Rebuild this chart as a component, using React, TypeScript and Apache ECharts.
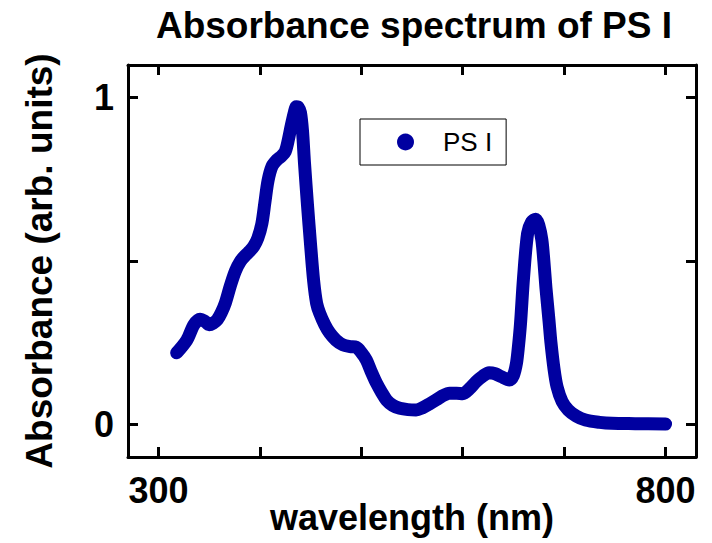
import React, { useEffect, useRef } from "react";
import * as echarts from "echarts";

const wavelengths = [318,328,335,341,346,350,354,358,362,366,371,376,381,386,390,394,398,402,405,408,412,417,421,425,428,431,434,436,438,440,442,444,447,450,453,456,459,464,469,475,482,489,495,500,505,510,515,520,525,531,538,546,554,560,567,574,580,587,594,600,607,613,620,626,632,638,646,650,653,655,657,660,664,668,672,675,678,680,682,685,687,690,693,698,704,712,721,735,747,770,800];
const absorbance = [0.219,0.258,0.305,0.322,0.315,0.305,0.31,0.32,0.342,0.372,0.425,0.47,0.5,0.518,0.53,0.545,0.57,0.615,0.68,0.745,0.79,0.81,0.82,0.835,0.87,0.915,0.955,0.972,0.97,0.955,0.9,0.8,0.67,0.55,0.44,0.37,0.34,0.305,0.279,0.258,0.243,0.238,0.236,0.22,0.197,0.16,0.126,0.098,0.074,0.058,0.049,0.045,0.044,0.05,0.062,0.075,0.087,0.095,0.095,0.094,0.11,0.13,0.148,0.158,0.155,0.146,0.136,0.15,0.187,0.24,0.309,0.45,0.585,0.62,0.628,0.61,0.565,0.5,0.42,0.32,0.25,0.17,0.115,0.07,0.044,0.025,0.013,0.006,0.003,0.002,0.001];

const xTicks = [300, 400, 500, 600, 700, 800];
const xLabels = [300, 800];
const yTicks = [0, 0.5, 1];
const yLabels = [0, 1];

const seriesName = "PS I";
const titleText = "Absorbance spectrum of PS I";
const xName = "wavelength (nm)";
const yName = "Absorbance (arb. units)";

const FONT = "Liberation Sans, Arial, Helvetica, sans-serif";
const LINE_COLOR = "#0000A0";

export default function App() {
  const ref = useRef<HTMLDivElement>(null);
  useEffect(() => {
    if (!ref.current) return;
    const chart = echarts.init(ref.current, null, { renderer: "svg" });
    const axisLine = { show: true, onZero: false, lineStyle: { color: "#000", width: 3 } };
    const tick = (vals: number[]) => ({
      show: true,
      inside: true,
      length: 10,
      lineStyle: { color: "#000", width: 3 },
      customValues: vals,
    });
    const lbl = (vals: number[], margin: number) => ({
      show: true,
      customValues: vals,
      color: "#000",
      fontFamily: FONT,
      fontWeight: "bold",
      fontSize: 36,
      margin,
    });
    chart.setOption({
      animation: false,
      backgroundColor: "#fff",
      title: {
        text: titleText,
        left: 409,
        top: 2,
        textAlign: "center",
        textStyle: { fontFamily: FONT, fontWeight: "bold", fontSize: 37, color: "#000" },
      },
      legend: {
        data: [{ name: seriesName, icon: "circle" }],
        left: 360,
        top: 119,
        orient: "horizontal",
        itemWidth: 17,
        itemHeight: 17,
        padding: [10, 14, 10, 37],
        borderColor: "#000",
        borderWidth: 1,
        borderRadius: 0,
        backgroundColor: "#fff",
        textStyle: {
          fontFamily: FONT,
          fontSize: 26,
          color: "#000",
          padding: [0, 0, 0, 24],
        },
      },
      grid: {
        left: 128,
        right: 16,
        top: 65,
        bottom: 86,
        containLabel: false,
        outerBoundsMode: "none",
      },
      xAxis: [
        {
          type: "value",
          min: 270,
          max: 830,
          position: "bottom",
          axisLine,
          axisTick: tick(xTicks),
          axisLabel: lbl(xLabels, 15),
          splitLine: { show: false },
          name: xName,
          nameLocation: "middle",
          nameGap: 42,
          nameMoveOverlap: false,
          nameTextStyle: { fontFamily: FONT, fontWeight: "bold", fontSize: 36, color: "#000" },
        },
        {
          type: "value",
          min: 270,
          max: 830,
          position: "top",
          axisLine,
          axisTick: tick(xTicks),
          axisLabel: { show: false },
          splitLine: { show: false },
        },
      ],
      yAxis: [
        {
          type: "value",
          min: -0.1,
          max: 1.1,
          position: "left",
          axisLine,
          axisTick: tick(yTicks),
          axisLabel: lbl(yLabels, 14),
          splitLine: { show: false },
          name: yName,
          nameLocation: "middle",
          nameGap: 70,
          nameMoveOverlap: false,
          nameTextStyle: { fontFamily: FONT, fontWeight: "bold", fontSize: 37, color: "#000" },
        },
        {
          type: "value",
          min: -0.1,
          max: 1.1,
          position: "right",
          axisLine,
          axisTick: tick(yTicks),
          axisLabel: { show: false },
          splitLine: { show: false },
        },
      ],
      series: [
        {
          name: seriesName,
          type: "line",
          xAxisIndex: 0,
          yAxisIndex: 0,
          data: wavelengths.map((w, i) => [w, absorbance[i]]),
          smooth: 0.3,
          showSymbol: false,
          symbol: "circle",
          itemStyle: { color: LINE_COLOR },
          lineStyle: { color: LINE_COLOR, width: 13, cap: "round", join: "round" },
        },
      ],
    });
    return () => chart.dispose();
  }, []);
  return <div ref={ref} style={{ width: 712, height: 543, position: "absolute", left: 0, top: 0 }} />;
}
